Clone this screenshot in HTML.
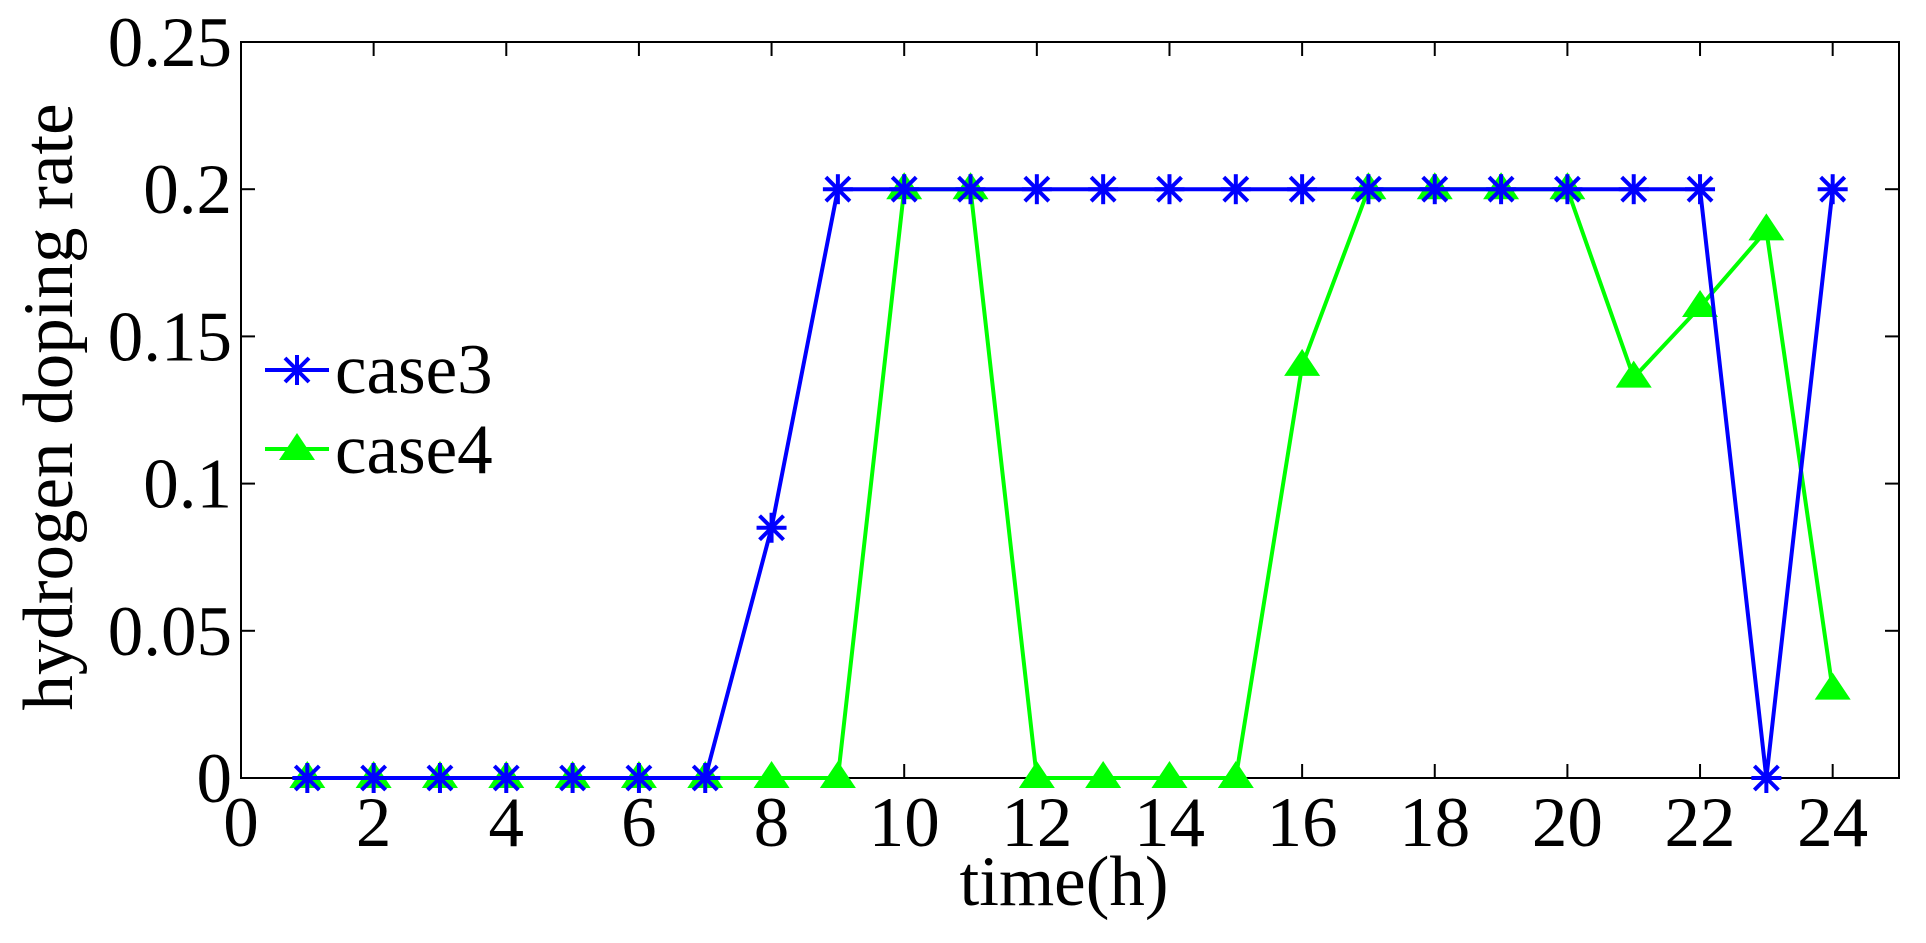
<!DOCTYPE html>
<html><head><meta charset="utf-8"><style>html,body{margin:0;padding:0;background:#fff}
text{font-family:"Liberation Serif","DejaVu Serif",serif;font-size:71px;fill:#000}</style></head>
<body>
<svg xmlns="http://www.w3.org/2000/svg" width="1926" height="938" viewBox="0 0 1926 938">
<rect width="1926" height="938" fill="#fff"/>
<g id="axes" stroke="#000" stroke-width="2" fill="none">
<rect x="241" y="42" width="1658" height="736"/>
</g>
<g id="ticks"></g>
<g id="c4"></g>
<g id="c3"></g>
<g id="labels"></g>
<text x="1064" y="905" text-anchor="middle">time(h)</text>
<text transform="translate(72,407) rotate(-90)" text-anchor="middle">hydrogen doping rate</text>
<line x1="265" y1="370" x2="329" y2="370" stroke="#00f" stroke-width="4"/>
<g stroke="#00f" stroke-width="4"><line x1="297" y1="355" x2="297" y2="385"/><line x1="285" y1="358" x2="309" y2="382"/><line x1="309" y1="358" x2="285" y2="382"/></g>
<text x="335" y="393">case3</text>
<line x1="265" y1="449" x2="329" y2="449" stroke="#0f0" stroke-width="4"/>
<polygon points="297,433 315,460 279,460" fill="#0f0"/>
<text x="335" y="473">case4</text>
<script>
const X=v=>241+v*66.32, Y=v=>778-v*2944;
const ns="http://www.w3.org/2000/svg";
function el(p,t,a){const e=document.createElementNS(ns,t);for(const k in a)e.setAttribute(k,a[k]);p.appendChild(e);return e;}
const tk=document.getElementById('ticks'),lb=document.getElementById('labels');
for(let i=0;i<=24;i+=2){const x=X(i);el(tk,'line',{x1:x,y1:778,x2:x,y2:764,stroke:'#000','stroke-width':2});el(tk,'line',{x1:x,y1:42,x2:x,y2:56,stroke:'#000','stroke-width':2});
const t=el(lb,'text',{x:x,y:846,'text-anchor':'middle'});t.textContent=i;}
['0','0.05','0.1','0.15','0.2','0.25'].forEach((s,i)=>{const y=Y(i*0.05);el(tk,'line',{x1:241,y1:y,x2:255,y2:y,stroke:'#000','stroke-width':2});el(tk,'line',{x1:1899,y1:y,x2:1885,y2:y,stroke:'#000','stroke-width':2});
const t=el(lb,'text',{x:232,y:y+24,'text-anchor':'end'});t.textContent=s;});
const c3=[0,0,0,0,0,0,0,0.085,0.2,0.2,0.2,0.2,0.2,0.2,0.2,0.2,0.2,0.2,0.2,0.2,0.2,0.2,0,0.2];
const c4=[0,0,0,0,0,0,0,0,0,0.2,0.2,0,0,0,0,0.14,0.2,0.2,0.2,0.2,0.136,0.16,0.186,0.03];
const g3=document.getElementById('c3'),g4=document.getElementById('c4');
el(g3,'polyline',{points:c3.map((v,i)=>X(i+1)+','+Y(v)).join(' '),fill:'none',stroke:'#00f','stroke-width':4});
c3.forEach((v,i)=>{const x=X(i+1),y=Y(v);[[0,-15,0,15],[-12,-12,12,12],[12,-12,-12,12],[-15,0,15,0]].forEach(d=>el(g3,'line',{x1:x+d[0],y1:y+d[1],x2:x+d[2],y2:y+d[3],stroke:'#00f','stroke-width':4}));});
el(g4,'polyline',{points:c4.map((v,i)=>X(i+1)+','+Y(v)).join(' '),fill:'none',stroke:'#0f0','stroke-width':4});
c4.forEach((v,i)=>{const x=X(i+1),y=Y(v);el(g4,'polygon',{points:`${x},${y-17} ${x+18},${y+10} ${x-18},${y+10}`,fill:'#0f0'});});
</script>
</svg>
</body></html>
